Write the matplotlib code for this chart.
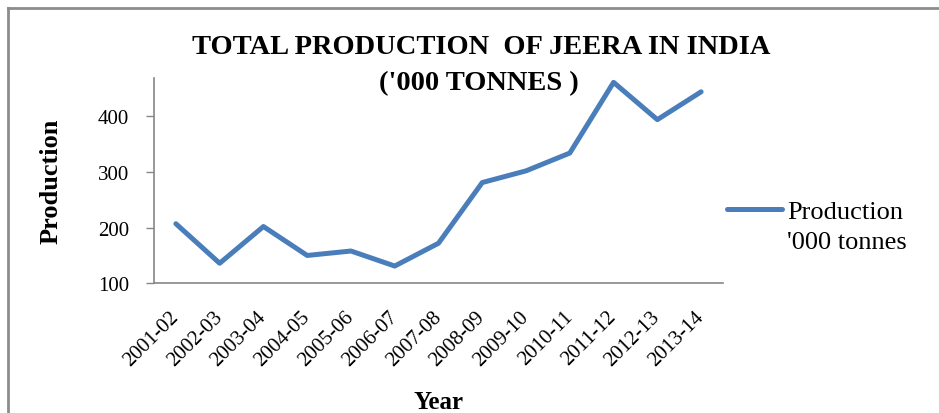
import matplotlib
matplotlib.use('Agg')
import matplotlib.pyplot as plt
from matplotlib.lines import Line2D

years = ['2001-02', '2002-03', '2003-04', '2004-05', '2005-06', '2006-07', '2007-08',
         '2008-09', '2009-10', '2010-11', '2011-12', '2012-13', '2013-14']
production = [207, 136, 202, 150, 158, 131, 172, 281, 302, 334, 461, 394, 444]
yticks = [100, 200, 300, 400]

plt.rcParams['font.family'] = 'Liberation Serif'
grey = '#868686'
W, H = 939, 414

fig = plt.figure(figsize=(W/100, H/100), dpi=100)
ax = fig.add_axes([154/W, 1 - 284.3/H, (723-154)/W, (284.3-79)/H])

ax.plot(range(len(years)), production, color='#4A7EBB', lw=3.6,
        solid_joinstyle='round', solid_capstyle='round', label="Production")

ax.set_xlim(-0.5, len(years) - 0.5)
ax.set_ylim(100, 468.8)
ax.set_yticks(yticks)
ax.set_xticks(range(len(years)))
ax.set_xticklabels(years, rotation=45, ha='right', va='center', rotation_mode='anchor')

for s in ['top', 'right']:
    ax.spines[s].set_visible(False)
for s in ['left', 'bottom']:
    ax.spines[s].set_color(grey)
    ax.spines[s].set_linewidth(1.2)
ax.tick_params(axis='y', length=6, width=1, color=grey, pad=12, labelsize=15)
ax.tick_params(axis='x', length=0, pad=22, labelsize=15)

ax.set_ylabel('Production', fontsize=19, fontweight='bold', labelpad=25)
ax.set_xlabel('Year', fontsize=18, fontweight='bold', labelpad=15)

fig.text(481/W, 1 - 47/H, "TOTAL PRODUCTION  OF JEERA IN INDIA",
         ha='center', va='center', fontsize=20.5, fontweight='bold')
fig.text(479/W, 1 - 84/H, "('000 TONNES )",
         ha='center', va='center', fontsize=20.5, fontweight='bold')

# legend: line + "Production", second line of the label below it
leg = ax.legend(loc='center left', bbox_to_anchor=(727/W, 1 - 212/H),
                bbox_transform=fig.transFigure, frameon=False,
                fontsize=19, handlelength=2.1, handletextpad=0.2,
                borderaxespad=0, borderpad=0)
fig.text(787/W, 1 - 243/H, "'000 tonnes", ha='left', va='center', fontsize=19)

# outer chart frame (top and left edges visible)
fig.add_artist(Line2D([8/W, 1], [1 - 9/H, 1 - 9/H], color='#8c8c8c', lw=2,
                      transform=fig.transFigure))
fig.add_artist(Line2D([8/W, 8/W], [1 - 9/H, 0], color='#8c8c8c', lw=2,
                      transform=fig.transFigure))

fig.savefig('out.png', dpi=100)
